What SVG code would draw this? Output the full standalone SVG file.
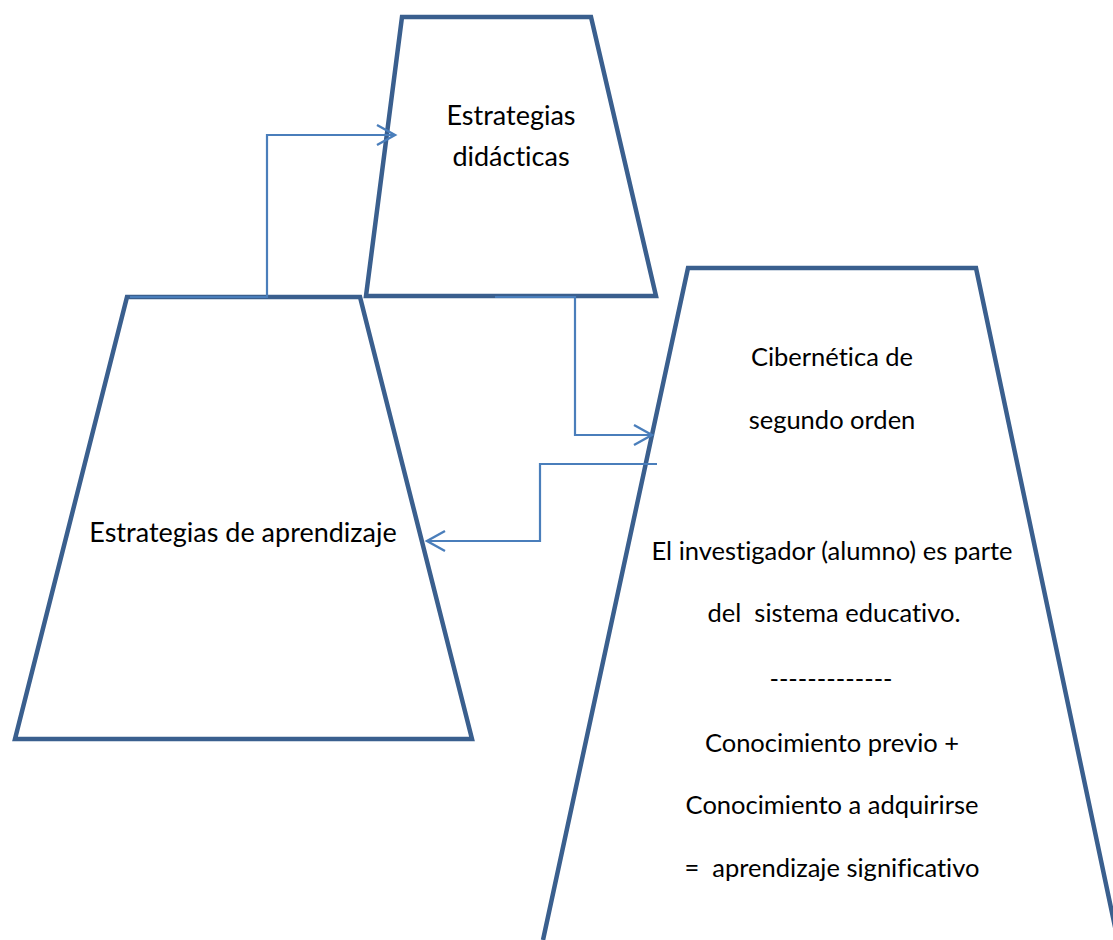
<svg xmlns="http://www.w3.org/2000/svg" width="1113" height="940" viewBox="0 0 1113 940">
  <style>
    .shape { fill: none; stroke: #3A5F8E; stroke-width: 4.5; stroke-linejoin: miter; }
    .conn { fill: none; stroke: #4A7EBB; stroke-width: 2.2; }
    .lbl { font-family: Lato, "Open Sans", sans-serif; font-size: 27px; fill: #000; text-anchor: middle; font-variant-ligatures: none; }
    .sm { font-size: 25.5px; }
  </style>
  <defs>
    <marker id="arrow" markerUnits="userSpaceOnUse" viewBox="-22 -13 26 26" refX="0" refY="0" markerWidth="26" markerHeight="26" orient="auto">
      <path d="M-18,-10 L0,0 L-18,10" fill="none" stroke="#4A7EBB" stroke-width="2.4"/>
    </marker>
  </defs>
  <rect width="1113" height="940" fill="#fff"/>

  <g id="node-didacticas">
    <polygon class="shape" points="402,17 591,17 656,296 366,296"/>
    <text class="lbl" x="511" y="125">Estrategias</text>
    <text class="lbl" x="511" y="166">didácticas</text>
  </g>

  <g id="node-aprendizaje">
    <polygon class="shape" points="127,297 360,297 472,739 15,739"/>
    <text class="lbl" x="243" y="542">Estrategias de aprendizaje</text>
  </g>

  <g id="node-cibernetica">
    <path class="shape" d="M543,940 L688,268 L976,268 L1122,960"/>
    <text class="lbl sm" x="832" y="366">Cibernética de</text>
    <text class="lbl sm" x="832" y="429">segundo orden</text>
    <text class="lbl sm" x="832" y="560">El investigador (alumno) es parte</text>
    <text class="lbl sm" x="834" y="622" xml:space="preserve">del  sistema educativo.</text>
    <text class="lbl sm" x="831" y="688">-------------</text>
    <text class="lbl sm" x="832" y="752">Conocimiento previo +</text>
    <text class="lbl sm" x="832" y="814">Conocimiento a adquirirse</text>
    <text class="lbl sm" x="832" y="877" xml:space="preserve">=  aprendizaje significativo</text>
  </g>

  <g id="connectors">
    <polyline class="conn" points="130,297 267,297 267,135 395,135" marker-end="url(#arrow)"/>
    <polyline class="conn" points="495,297 575,297 575,435 652,435" marker-end="url(#arrow)"/>
    <polyline class="conn" points="657,464 540,464 540,541 427,541" marker-end="url(#arrow)"/>
  </g>
</svg>
